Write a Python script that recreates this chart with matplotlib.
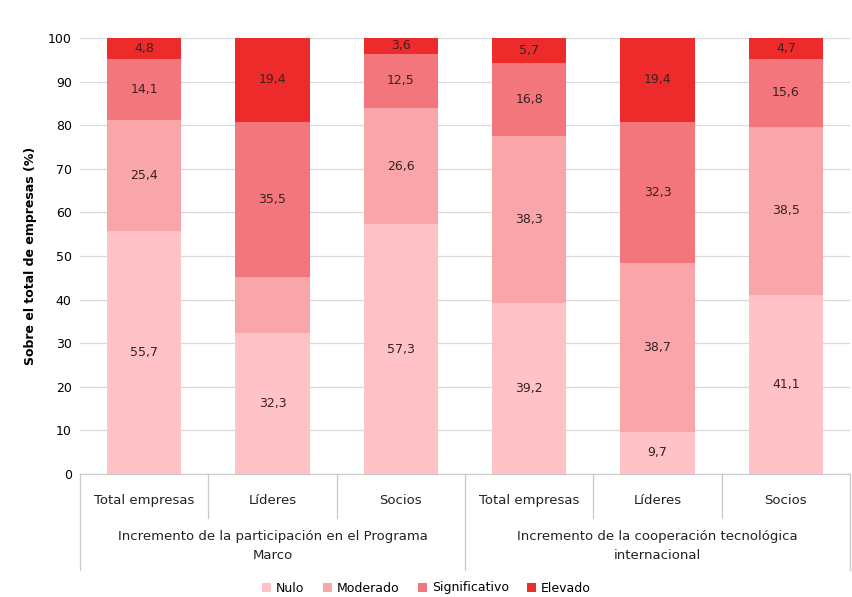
import numpy as np
import matplotlib.pyplot as plt
from matplotlib.lines import Line2D

# data
categories = ["Total empresas", "Líderes", "Socios", "Total empresas", "Líderes", "Socios"]
groups = ["Incremento de la participación en el Programa\nMarco",
          "Incremento de la cooperación tecnológica\ninternacional"]
series_names = ["Nulo", "Moderado", "Significativo", "Elevado"]
nulo = [55.7, 32.3, 57.3, 39.2, 9.7, 41.1]
moderado = [25.4, 12.9, 26.6, 38.3, 38.7, 38.5]
significativo = [14.1, 35.5, 12.5, 16.8, 32.3, 15.6]
elevado = [4.8, 19.4, 3.6, 5.7, 19.4, 4.7]
# the original leaves this one segment without a label
hide_label = [(1, 1)]  # (series index, bar index)

colors = ["#FFC2C6", "#F9A6AB", "#F2767B", "#EE2B2B"]

fig = plt.figure(figsize=(8.53, 5.97), dpi=100)
ax = fig.add_axes([80 / 853, 1 - 474 / 597, 770 / 853, (474 - 38) / 597])

x = np.arange(len(categories))
bottom = np.zeros(len(categories))
all_series = [nulo, moderado, significativo, elevado]
for si, vals in enumerate(all_series):
    vals = np.array(vals)
    ax.bar(x, vals, 0.58, bottom=bottom, color=colors[si], label=series_names[si], zorder=2)
    for i, v in enumerate(vals):
        if (si, i) in hide_label:
            continue
        ax.text(x[i], bottom[i] + v / 2, f"{v:.1f}".replace(".", ","),
                ha="center", va="center", fontsize=9, color="#3a2222", zorder=3)
    bottom += vals

ax.set_xlim(-0.5, 5.5)
ax.set_ylim(0, 100)
ax.set_yticks(range(0, 101, 10))
ax.tick_params(axis="y", length=0, labelsize=9, pad=6)
ax.set_xticks([])
ax.yaxis.grid(True, color="#d9d9d9", linewidth=0.9, zorder=0)
for s in ["top", "right", "left"]:
    ax.spines[s].set_visible(False)
ax.spines["bottom"].set_color("#c8c8c8")
ax.set_ylabel("Sobre el total de empresas (%)", fontsize=9, fontweight="bold", labelpad=8)

# multi-level category axis
trans = ax.get_xaxis_transform()
for i, c in enumerate(categories):
    ax.text(x[i], -0.06, c, transform=trans, ha="center", va="center", fontsize=9.5, color="#222222")
for gi, g in enumerate(groups):
    ax.text(1 + gi * 3, -0.165, g, transform=trans, ha="center", va="center",
            fontsize=9.5, color="#222222", linespacing=1.6)
for b in [0.5, 1.5, 3.5, 4.5]:
    ax.add_line(Line2D([b, b], [0, -0.1], transform=trans, color="#c8c8c8",
                       linewidth=0.9, clip_on=False))
for b in [-0.5, 2.5, 5.5]:
    ax.add_line(Line2D([b, b], [0, -0.22], transform=trans, color="#c8c8c8",
                       linewidth=0.9, clip_on=False))

fig.legend(loc="center", bbox_to_anchor=(0.5, 1 - 588 / 597), ncol=4, frameon=False,
           fontsize=9, handlelength=0.7, handleheight=0.7, handletextpad=0.4, columnspacing=1.5)

fig.savefig("out.png", dpi=100)
